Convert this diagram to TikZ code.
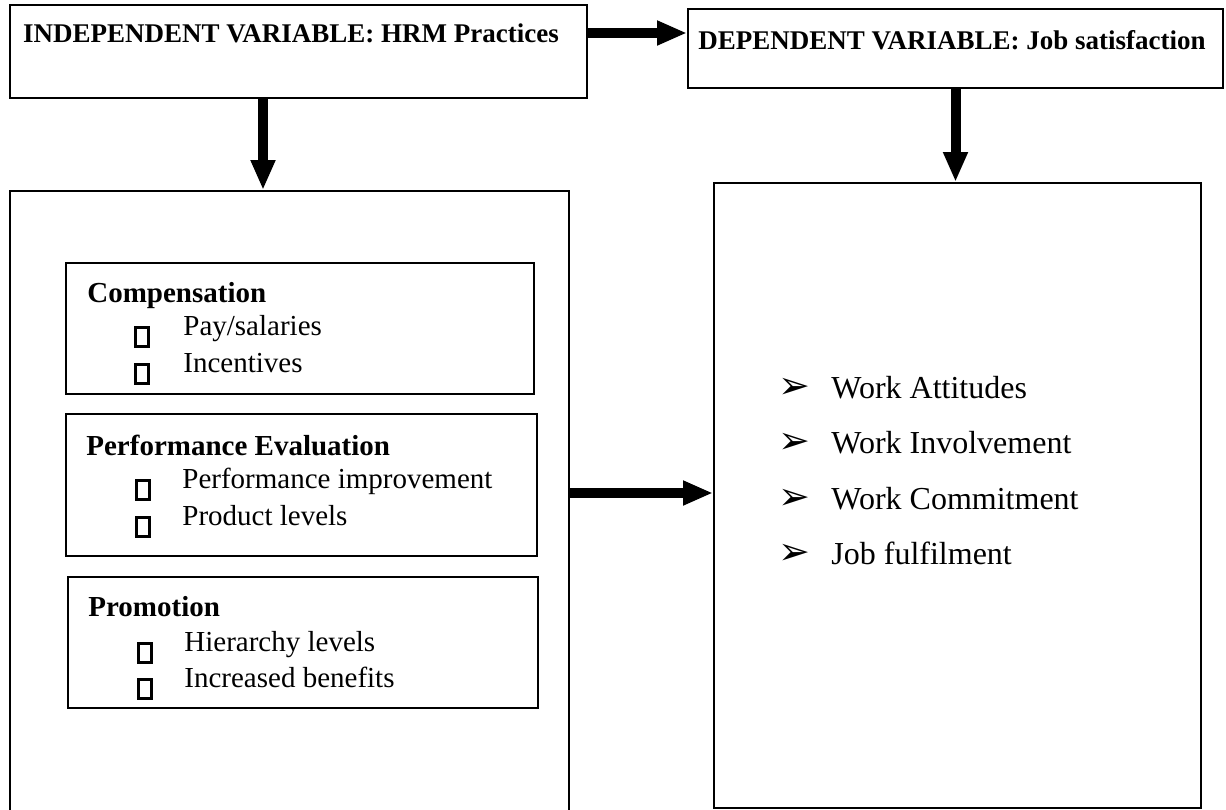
\documentclass[tikz,border=0pt]{standalone}
\usepackage{fontspec}
\setmainfont{Liberation Serif}
\newfontfamily\symfont{DejaVu Sans}
\usetikzlibrary{positioning,arrows.meta,calc}

\begin{document}
\begin{tikzpicture}[x=0.5pt,y=-0.5pt,
    box/.style={draw,line width=1pt,rectangle,anchor=north west,inner sep=0pt},
    subbox/.style={draw,line width=0.8pt,rectangle,anchor=north west,inner sep=0pt},
    heading/.style={font=\fontsize{13.5}{16}\selectfont\bfseries,inner sep=0pt},
    subhead/.style={font=\fontsize{14.5}{17}\selectfont\bfseries,anchor=base west,inner sep=0pt},
    item/.style={font=\fontsize{14.5}{17}\selectfont,anchor=base west,inner sep=0pt},
    sqbullet/.style={draw,line width=1.1pt,minimum width=6.5pt,minimum height=9.5pt,inner sep=0pt},
    listitem/.style={font=\fontsize{16}{19}\selectfont,anchor=base west,inner sep=0pt},
    arrowbullet/.style={font=\symfont\fontsize{19}{22}\selectfont,inner sep=0pt},
    fat/.style={line width=5pt,-{Triangle[width=11.5pt,length=15pt]}}]
\useasboundingbox (0,0) rectangle (1226,809);

% top boxes
\node[box,minimum width=288.5pt,minimum height=46.5pt] (indep) at (9,4) {};
\node[heading] (indephd) at (291,33) {INDEPENDENT VARIABLE: HRM Practices};
\node[box,minimum width=267.5pt,minimum height=39.5pt] (dep) at (687,8) {};
\node[heading] (dephd) at (952,40) {DEPENDENT VARIABLE: Job satisfaction};

% big boxes
\node[box,minimum width=279.5pt,minimum height=312.5pt] (practices) at (9,190) {};
\node[box,minimum width=243.5pt,minimum height=312.5pt] (outcomes) at (713,182) {};

% HRM practices
\node[subbox,minimum width=234pt,minimum height=65.5pt] (compbox) at (65,262) {};
\node[subhead] (comp) at (87,302) {Compensation};
\node[item] (comp1) at (183,335) {Pay/salaries};
\node[item] (comp2) at (183,372) {Incentives};
\node[sqbullet] (compb1) at ([xshift=-20.5pt,yshift=-1pt]comp1.base west) {};
\node[sqbullet] (compb2) at ([xshift=-20.5pt,yshift=-1pt]comp2.base west) {};

\node[subbox,minimum width=235.5pt,minimum height=71pt] (perfbox) at (65,413) {};
\node[subhead] (perf) at (86,455) {Performance Evaluation};
\node[item] (perf1) at (182,488) {Performance improvement};
\node[item] (perf2) at (182,525) {Product levels};
\node[sqbullet] (perfb1) at ([xshift=-19.5pt,yshift=-1pt]perf1.base west) {};
\node[sqbullet] (perfb2) at ([xshift=-19.5pt,yshift=-1pt]perf2.base west) {};

\node[subbox,minimum width=235pt,minimum height=65.5pt] (promobox) at (67,576) {};
\node[subhead] (promo) at (88,616) {Promotion};
\node[item] (promo1) at (184,651) {Hierarchy levels};
\node[item] (promo2) at (184,687) {Increased benefits};
\node[sqbullet] (promob1) at ([xshift=-19.5pt,yshift=-1pt]promo1.base west) {};
\node[sqbullet] (promob2) at ([xshift=-19.5pt,yshift=-1pt]promo2.base west) {};

% job satisfaction
\foreach \t [count=\i] in {Work Attitudes,Work Involvement,Work Commitment,Job fulfilment} {
    \node[listitem] (out\i) at (831,342.5+55.5*\i) {\t};
    \node[arrowbullet] (outb\i) at ([xshift=-18.5pt,yshift=5pt]out\i.base west) {➢};
}

% arrows
\coordinate (downA) at (263,0);
\coordinate (midrow) at (0,493);
\draw[fat] (indephd -| indep.east) -- (indephd -| dep.west);
\draw[fat] (downA |- indep.south) -- (downA |- practices.north);
\draw[fat] (dep.south) -- (dep.south |- outcomes.north);
\draw[fat] (midrow -| practices.east) -- (midrow -| outcomes.west);
\end{tikzpicture}
\end{document}
